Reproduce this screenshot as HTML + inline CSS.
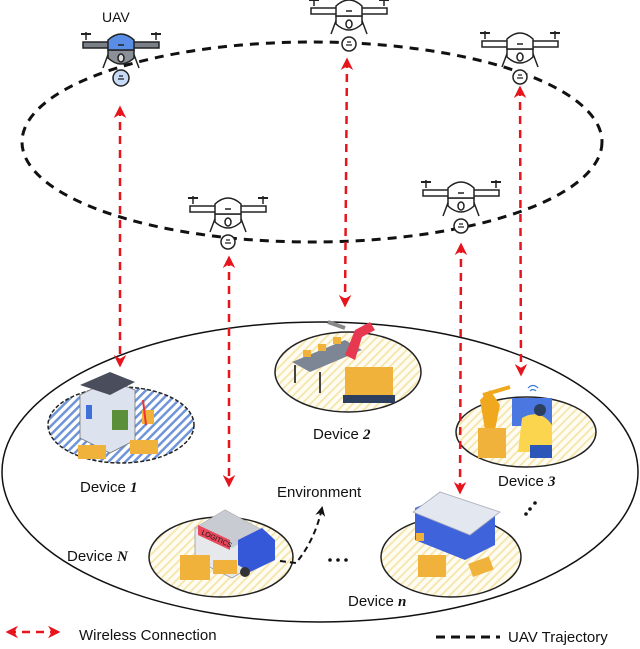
<!DOCTYPE html>
<html><head><meta charset="utf-8"><style>
html,body{margin:0;padding:0;background:#fff;}
svg{display:block;}
text{font-family:"Liberation Sans",sans-serif;fill:#111;}
.m{font-family:"Liberation Serif",serif;font-style:italic;font-weight:bold;}
</style></head><body>
<svg width="640" height="649" viewBox="0 0 640 649" xmlns="http://www.w3.org/2000/svg">
<defs>
<pattern id="hy" width="6" height="6" patternUnits="userSpaceOnUse" patternTransform="rotate(45)">
<rect width="6" height="6" fill="#fffdf3"/><rect width="2" height="6" fill="#f6e6b0"/></pattern>
<pattern id="hb" width="6" height="6" patternUnits="userSpaceOnUse" patternTransform="rotate(45)">
<rect width="6" height="6" fill="#fff"/><rect width="2.5" height="6" fill="#6f95d8"/></pattern>
<marker id="ar" viewBox="0 0 10 10" refX="8" refY="5" markerWidth="5" markerHeight="5" orient="auto-start-reverse">
<path d="M0,0 L10,5 L0,10 L3,5 z" fill="#e8141b"/></marker>
<marker id="ak" viewBox="0 0 10 10" refX="8" refY="5" markerWidth="5" markerHeight="5" orient="auto">
<path d="M0,0 L10,5 L0,10 L3,5 z" fill="#111"/></marker>
<g id="dr">
<line x1="-35" y1="-8" x2="-35" y2="-16" stroke="#222" stroke-width="1.5"/>
<line x1="35" y1="-8" x2="35" y2="-16" stroke="#222" stroke-width="1.5"/>
<line x1="-40" y1="-14" x2="-30" y2="-14" stroke="#222" stroke-width="2"/>
<line x1="30" y1="-14" x2="40" y2="-14" stroke="#222" stroke-width="2"/>
<rect x="-38" y="-6" width="76" height="6" fill="#fff" stroke="#222" stroke-width="1.5"/>
<line x1="-12" y1="4" x2="-18" y2="20" stroke="#222" stroke-width="1.5"/>
<line x1="12" y1="4" x2="18" y2="20" stroke="#222" stroke-width="1.5"/>
<path d="M-13,2 L-13,10 Q0,22 13,10 L13,2 Z" fill="#fff" stroke="#222" stroke-width="1.5"/>
<ellipse cx="0" cy="10" rx="3" ry="4" fill="none" stroke="#222" stroke-width="1.5"/>
<path d="M-13,2 L-13,-8 Q0,-20 13,-8 L13,2 Z" fill="#fff" stroke="#222" stroke-width="1.5"/>
<line x1="-3" y1="-3" x2="3" y2="-3" stroke="#222" stroke-width="1.5"/>
<circle cx="0" cy="30" r="7" fill="#fff" stroke="#222" stroke-width="1.5"/>
<path d="M-3,31 h6 M-2,28 h4" stroke="#222" stroke-width="1.2"/>
</g>
</defs>

<ellipse cx="320" cy="472" rx="318" ry="150" fill="none" stroke="#111" stroke-width="1.5"/>
<ellipse cx="312" cy="142" rx="290" ry="100" fill="none" stroke="#111" stroke-width="3" stroke-dasharray="9,7"/>

<ellipse cx="121" cy="425" rx="73" ry="38" fill="url(#hb)" stroke="#222" stroke-width="1.5" stroke-dasharray="4,2"/>
<ellipse cx="348" cy="372" rx="73" ry="40" fill="url(#hy)" stroke="#222" stroke-width="1.5"/>
<ellipse cx="526" cy="432" rx="70" ry="35" fill="url(#hy)" stroke="#222" stroke-width="1.5"/>
<ellipse cx="221" cy="557" rx="72" ry="40" fill="url(#hy)" stroke="#222" stroke-width="1.5"/>
<ellipse cx="451" cy="557" rx="70" ry="40" fill="url(#hy)" stroke="#222" stroke-width="1.5"/>

<g transform="translate(0,5)">
<path d="M80,390 L110,375 L135,385 L135,435 L110,448 L80,433 Z" fill="#dde3ee" stroke="#777" stroke-width="0.8"/>
<path d="M80,380 L110,367 L135,377 L110,390 Z" fill="#4a4e5c"/>
<rect x="112" y="405" width="16" height="20" fill="#5b8f3a"/>
<rect x="86" y="400" width="6" height="14" fill="#3f6fd8"/>
<rect x="78" y="440" width="28" height="14" fill="#f0b23a"/>
<rect x="130" y="435" width="28" height="14" fill="#f0b23a"/>
<rect x="142" y="405" width="12" height="14" fill="#f0b23a"/>
<line x1="143" y1="395" x2="146" y2="420" stroke="#e33" stroke-width="2"/>
</g>

<path d="M292,362 L345,340 L362,350 L310,372 Z" fill="#7d8694"/>
<line x1="295" y1="365" x2="295" y2="383" stroke="#444" stroke-width="2"/>
<line x1="320" y1="372" x2="320" y2="393" stroke="#444" stroke-width="2"/>
<rect x="303" y="350" width="8" height="7" fill="#f0b23a"/><rect x="318" y="344" width="8" height="7" fill="#f0b23a"/><rect x="333" y="337" width="8" height="7" fill="#f0b23a"/>
<path d="M345,355 L355,330 L370,322 L375,330 L362,337 L355,360 Z" fill="#e8384f"/>
<line x1="328" y1="322" x2="345" y2="328" stroke="#888" stroke-width="4"/>
<rect x="345" y="367" width="48" height="30" fill="#f0b23a"/>
<rect x="343" y="395" width="52" height="8" fill="#2d3f5e"/>

<path d="M480,400 L490,390 L500,405 L495,430 L485,430 Z" fill="#f0a81e"/>
<rect x="478" y="428" width="28" height="30" fill="#f0b23a"/>
<line x1="483" y1="395" x2="510" y2="387" stroke="#f0a81e" stroke-width="4"/>
<rect x="512" y="398" width="40" height="28" fill="#4a78e0"/>
<path d="M522,418 Q540,408 552,425 L552,452 L518,452 Z" fill="#fbd54e"/>
<rect x="530" y="445" width="22" height="13" fill="#2c56b8"/>
<circle cx="540" cy="410" r="6" fill="#2d3f5e"/>
<path d="M528,388 q5,-5 10,0 M530,391 q3,-3 6,0" stroke="#3a7be0" fill="none" stroke-width="1.2"/>

<path d="M195,528 L225,510 L262,530 L262,560 L232,578 L195,560 Z" fill="#e7e8ec" stroke="#999" stroke-width="0.8"/>
<path d="M195,528 L225,510 L262,530 L232,548 Z" fill="#c9cbd2"/>
<path d="M198,525 L230,540 L230,550 L198,535 Z" fill="#e8485c"/>
<text x="201" y="534" font-size="7" fill="#222" transform="rotate(25 201 534)">LOGITICS</text>
<path d="M238,540 L262,528 L275,540 L275,560 L250,572 L238,565 Z" fill="#3558d8"/>
<circle cx="205" cy="560" r="5" fill="#333"/><circle cx="245" cy="572" r="5" fill="#333"/>
<rect x="180" y="555" width="30" height="25" fill="#f0b23a"/>
<rect x="213" y="560" width="24" height="14" fill="#f0b23a"/>

<path d="M415,508 L445,495 L495,515 L495,545 L465,560 L415,540 Z" fill="#3f63da"/>
<path d="M413,512 L440,492 L500,512 L470,535 Z" fill="#e3e7f0" stroke="#aab" stroke-width="0.8"/>
<rect x="418" y="555" width="28" height="22" fill="#f0b23a"/>
<rect x="470" y="560" width="22" height="14" fill="#f0b23a" transform="rotate(-20 480 567)"/>
<rect x="416" y="533" width="8" height="8" fill="#f0b23a"/>

<g stroke="#e8141b" stroke-width="2.5" stroke-dasharray="8,6" fill="none">
<line x1="120" y1="108" x2="120" y2="365" marker-start="url(#ar)" marker-end="url(#ar)"/>
<line x1="229" y1="258" x2="229" y2="485" marker-start="url(#ar)" marker-end="url(#ar)"/>
<line x1="347" y1="60" x2="345" y2="305" marker-start="url(#ar)" marker-end="url(#ar)"/>
<line x1="461" y1="245" x2="460" y2="492" marker-start="url(#ar)" marker-end="url(#ar)"/>
<line x1="520" y1="88" x2="521" y2="374" marker-start="url(#ar)" marker-end="url(#ar)"/>
</g>

<g transform="translate(349,14)"><use href="#dr"/></g>
<g transform="translate(520,47)"><use href="#dr"/></g>
<g transform="translate(228,212)"><use href="#dr"/></g>
<g transform="translate(461,196)"><use href="#dr"/></g>
<g transform="translate(121,48)">
<line x1="-35" y1="-8" x2="-35" y2="-16" stroke="#222" stroke-width="1.5"/>
<line x1="35" y1="-8" x2="35" y2="-16" stroke="#222" stroke-width="1.5"/>
<line x1="-40" y1="-14" x2="-30" y2="-14" stroke="#222" stroke-width="2"/>
<line x1="30" y1="-14" x2="40" y2="-14" stroke="#222" stroke-width="2"/>
<rect x="-38" y="-6" width="76" height="6" fill="#7b7f88" stroke="#222" stroke-width="1.5"/>
<line x1="-12" y1="4" x2="-18" y2="20" stroke="#222" stroke-width="1.5"/>
<line x1="12" y1="4" x2="18" y2="20" stroke="#222" stroke-width="1.5"/>
<path d="M-13,2 L-13,10 Q0,22 13,10 L13,2 Z" fill="#8b8f98" stroke="#222" stroke-width="1.5"/>
<ellipse cx="0" cy="10" rx="3" ry="4" fill="#ddd" stroke="#222" stroke-width="1.5"/>
<path d="M-13,2 L-13,-8 Q0,-20 13,-8 L13,2 Z" fill="#5a8ee6" stroke="#222" stroke-width="1.5"/>
<line x1="-3" y1="-3" x2="3" y2="-3" stroke="#222" stroke-width="1.5"/>
<circle cx="0" cy="30" r="8" fill="#c7dbf7" stroke="#222" stroke-width="1.5"/>
<path d="M-3,31 h6 M-2,28 h4" stroke="#222" stroke-width="1.2"/>
</g>

<path d="M280,561 L296,563 Q315,540 322,508" fill="none" stroke="#111" stroke-width="2" stroke-dasharray="6,4" marker-end="url(#ak)"/>
<circle cx="330" cy="560" r="1.8" fill="#111"/><circle cx="338" cy="560" r="1.8" fill="#111"/><circle cx="346" cy="560" r="1.8" fill="#111"/>
<circle cx="526" cy="514" r="1.8" fill="#111"/><circle cx="530" cy="509" r="1.8" fill="#111"/><circle cx="535" cy="503" r="1.8" fill="#111"/>

<text x="102" y="22" font-size="14">UAV</text>
<text x="80" y="492" font-size="15">Device <tspan class="m">1</tspan></text>
<text x="313" y="439" font-size="15">Device <tspan class="m">2</tspan></text>
<text x="498" y="486" font-size="15">Device <tspan class="m">3</tspan></text>
<text x="67" y="561" font-size="15">Device <tspan class="m">N</tspan></text>
<text x="348" y="606" font-size="15">Device <tspan class="m">n</tspan></text>
<text x="277" y="497" font-size="15">Environment</text>

<line x1="8" y1="632" x2="58" y2="632" stroke="#e8141b" stroke-width="2.5" stroke-dasharray="8,6" marker-start="url(#ar)" marker-end="url(#ar)"/>
<text x="79" y="640" font-size="15">Wireless Connection</text>
<line x1="436" y1="637" x2="500" y2="637" stroke="#111" stroke-width="3" stroke-dasharray="9,6"/>
<text x="508" y="642" font-size="15">UAV Trajectory</text>
</svg>
</body></html>
